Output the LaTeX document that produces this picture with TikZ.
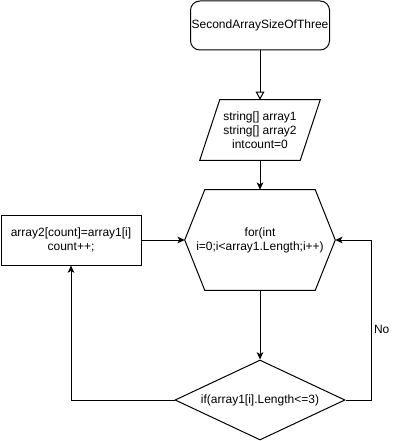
\documentclass[tikz,border=0pt]{standalone}
\usepackage{fontspec}
\setmainfont{Liberation Sans}
\usetikzlibrary{calc,arrows.meta,shapes.geometric}
\tikzset{
  base/.style={draw=black, line width=0.75pt, line join=miter},
  flow/.style={base, -{Stealth[length=5.5pt,width=5pt,inset=1.5pt]}},
  open/.style={base, -{Triangle[open,length=6pt,width=6.5pt]}},
  lab/.style={text=black, font=\fontsize{9}{10.5}\selectfont, align=center, inner sep=0pt},
  startbox/.style={base, lab, rounded corners=7pt, minimum width=104.25pt, minimum height=36.75pt},
  procbox/.style={base, lab, minimum width=105pt, minimum height=37.5pt},
  iobox/.style={lab, minimum width=90pt, minimum height=45pt},
  loopbox/.style={lab, minimum width=112.5pt, minimum height=75pt},
  condbox/.style={base, lab, diamond, aspect=2.125, minimum width=127.5pt, minimum height=60pt},
}
\begin{document}
\begin{tikzpicture}[x=0.75pt, y=-0.75pt]
  \useasboundingbox (0,0) rectangle (401,441);
  % nodes
  \node[startbox] (start) at (260,25.5) {SecondArraySizeOfThree};
  \node[iobox] (input) at (260,130) {string[] array1\\string[] array2\\intcount=0};
  \draw[base] ([xshift=15pt]input.north west) -- (input.north east) -- ([xshift=-15pt]input.south east)
    -- (input.south west) -- cycle;
  \node[loopbox] (loop) at (260,240) {for(int\\i=0;i<array1.Length;i++)};
  \draw[base] ([xshift=15pt]loop.north west) -- ([xshift=-15pt]loop.north east) -- (loop.east)
    -- ([xshift=-15pt]loop.south east) -- ([xshift=15pt]loop.south west) -- (loop.west) -- cycle;
  \node[procbox] (body) at (71,240) {array2[count]=array1[i]\\count++;};
  \node[condbox] (cond) at (260,400) {if(array1[i].Length<=3)};
  % connectors
  \draw[open] (start.south) -- (input.north);
  \draw[flow] (input.south) -- (loop.north);
  \draw[flow] (loop.south) -- (cond.north);
  \draw[flow] (body.east) -- (loop.west);
  \draw[flow] (cond.west) -| (body.south);
  \draw[flow] (cond.east) -- ++(26,0) |- node[pos=0.22, lab, anchor=west, inner sep=1.5pt] {No} (loop.east);
\end{tikzpicture}
\end{document}
